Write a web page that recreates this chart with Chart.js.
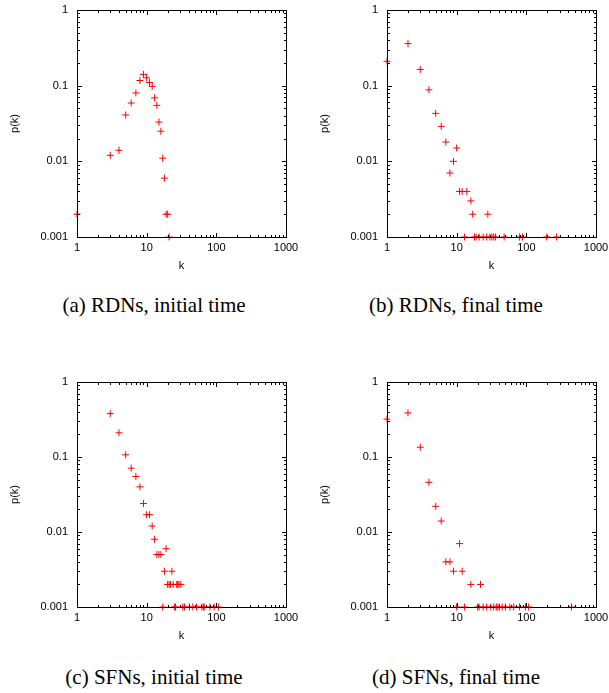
<!DOCTYPE html>
<html>
<head>
<meta charset="utf-8">
<script src="https://cdn.jsdelivr.net/npm/chart.js@4"></script>
<style>
  body { margin: 0; background: #fff; width: 609px; height: 693px; position: relative; overflow: hidden; }
  canvas { position: absolute; }
  .cap { position: absolute; width: 300px; text-align: center; font-family: "Liberation Serif", "Times New Roman", serif; font-size: 21px; line-height: 22px; color: #000; }
  .box { position: absolute; box-sizing: border-box; border: 1px solid #000; pointer-events: none; }
  .tk { position: absolute; background: #000; pointer-events: none; }
</style>
</head>
<body>
<canvas id="cA" width="300" height="275" style="left:0;top:0"></canvas>
<canvas id="cB" width="299" height="275" style="left:310px;top:0"></canvas>
<canvas id="cC" width="300" height="273" style="left:0;top:372px"></canvas>
<canvas id="cD" width="299" height="273" style="left:310px;top:372px"></canvas>
<div class="cap" style="left:4px;top:294px">(a) RDNs, initial time</div>
<div class="cap" style="left:306px;top:294px">(b) RDNs, final time</div>
<div class="cap" style="left:4px;top:666px">(c) SFNs, initial time</div>
<div class="cap" style="left:306px;top:666px">(d) SFNs, final time</div>
<script>
// degree distributions
const kA = [1, 3, 4, 5, 6, 7, 8, 9, 10, 11, 12, 13, 14, 15, 16, 17, 18, 19, 20, 21];
const pA = [0.002, 0.012, 0.014, 0.041, 0.059, 0.08, 0.117, 0.141, 0.127, 0.11, 0.098, 0.069, 0.055, 0.033, 0.025, 0.011, 0.006, 0.002, 0.002, 0.001];

const kB = [1, 2, 3, 4, 5, 6, 7, 8, 9, 10, 11, 12, 14, 16, 17, 28,
            13, 18, 19, 21, 24, 27, 30, 32, 34, 36, 48, 80, 88, 196, 272];
const pB = [0.21, 0.36, 0.164, 0.088, 0.043, 0.029, 0.018, 0.007, 0.01, 0.015, 0.004, 0.004, 0.004, 0.003, 0.002, 0.002,
            0.001, 0.001, 0.001, 0.001, 0.001, 0.001, 0.001, 0.001, 0.001, 0.001, 0.001, 0.001, 0.001, 0.001, 0.001];

const kC = [3, 4, 5, 6, 7, 8, 9, 10, 11, 12, 13, 14, 15, 16, 19, 18, 23,
            20, 21, 22, 24, 27, 28, 29, 31,
            17, 25, 26, 33, 35, 41, 46, 52, 62, 65, 67, 81, 93, 107];
const pC = [0.38, 0.21, 0.107, 0.071, 0.055, 0.04, 0.024, 0.017, 0.017, 0.012, 0.008, 0.005, 0.005, 0.005, 0.006, 0.003, 0.003,
            0.002, 0.002, 0.002, 0.002, 0.002, 0.002, 0.002, 0.002,
            0.001, 0.001, 0.001, 0.001, 0.001, 0.001, 0.001, 0.001, 0.001, 0.001, 0.001, 0.001, 0.001, 0.001];

const kD = [1, 2, 3, 4, 5, 6, 7, 8, 9, 11, 12, 16, 22,
            10, 13, 20, 21, 24, 27, 31, 34, 37, 39, 41, 45, 50, 58, 66, 80, 97, 108, 445];
const pD = [0.32, 0.387, 0.135, 0.046, 0.022, 0.014, 0.004, 0.004, 0.003, 0.007, 0.003, 0.002, 0.002,
            0.001, 0.001, 0.001, 0.001, 0.001, 0.001, 0.001, 0.001, 0.001, 0.001, 0.001, 0.001, 0.001, 0.001, 0.001, 0.001, 0.001, 0.001, 0.001];

// axis ticks
const xTicks = [1, 10, 100, 1000];
const yTicks = [0.001, 0.01, 0.1, 1];
const xMinor = [2, 3, 4, 5, 6, 7, 8, 9, 20, 30, 40, 50, 60, 70, 80, 90, 200, 300, 400, 500, 600, 700, 800, 900];
const yMinor = [0.002, 0.003, 0.004, 0.005, 0.006, 0.007, 0.008, 0.009,
                0.02, 0.03, 0.04, 0.05, 0.06, 0.07, 0.08, 0.09,
                0.2, 0.3, 0.4, 0.5, 0.6, 0.7, 0.8, 0.9];

const tickFont = { family: '"Liberation Sans", Arial, sans-serif', size: 11 };

function addDiv(cls, l, t, w, h) {
  const d = document.createElement('div');
  d.className = cls;
  d.style.left = l + 'px'; d.style.top = t + 'px';
  d.style.width = w + 'px'; d.style.height = h + 'px';
  document.body.appendChild(d);
}

// plot frame and gnuplot style inward ticks, placed from the chart's own scales
function addFrame(chart) {
  const cv = chart.canvas, a = chart.chartArea;
  const ox = cv.offsetLeft, oy = cv.offsetTop;
  const xs = chart.scales.x, ys = chart.scales.y;
  const L = Math.round(a.left), R = Math.round(a.right), T = Math.round(a.top), B = Math.round(a.bottom);
  addDiv('box', ox + L, oy + T, R - L + 1, B - T + 1);
  const xt = (v, len) => {
    const c = Math.round(xs.getPixelForValue(v));
    addDiv('tk', ox + c, oy + T, 1, len + 1);
    addDiv('tk', ox + c, oy + B - len, 1, len + 1);
  };
  const yt = (v, len) => {
    const r = Math.round(ys.getPixelForValue(v));
    addDiv('tk', ox + L, oy + r, len + 1, 1);
    addDiv('tk', ox + R - len, oy + r, len + 1, 1);
  };
  xTicks.forEach(v => xt(v, 4));
  xMinor.forEach(v => xt(v, 2));
  yTicks.forEach(v => yt(v, 4));
  yMinor.forEach(v => yt(v, 2));
}

function makePanel(id, ks, ps, padRight) {
  const pts = ks.map((k, i) => ({ x: k, y: ps[i] }));
  return new Chart(document.getElementById(id), {
    type: 'scatter',
    data: {
      datasets: [{
        data: pts,
        pointStyle: 'cross',
        pointRadius: 3.5,
        pointBorderWidth: 1,
        borderColor: 'rgb(255,0,0)',
        backgroundColor: 'rgb(255,0,0)',
        clip: false
      }]
    },
    options: {
      responsive: false,
      animation: false,
      events: [],
      devicePixelRatio: 1,
      layout: { padding: { left: 0, top: 10, right: padRight, bottom: 0 } },
      plugins: { legend: { display: false }, tooltip: { enabled: false } },
      scales: {
        x: {
          type: 'logarithmic', min: 1, max: 1000,
          grid: { display: false, drawTicks: false },
          border: { display: false },
          afterBuildTicks: s => { s.ticks = xTicks.map(v => ({ value: v })); },
          afterFit: s => { s.height = 38; s.paddingLeft = 0; s.paddingRight = 0; },
          ticks: { font: tickFont, color: '#000', padding: 4, maxRotation: 0, callback: v => String(v) },
          title: { display: true, text: 'k', font: tickFont, color: '#000', padding: { top: 0, bottom: 2 } }
        },
        y: {
          type: 'logarithmic', min: 0.001, max: 1,
          grid: { display: false, drawTicks: false },
          border: { display: false },
          afterBuildTicks: s => { s.ticks = yTicks.map(v => ({ value: v })); },
          afterFit: s => { s.width = 77; s.paddingTop = 0; s.paddingBottom = 0; },
          ticks: { font: tickFont, color: '#000', padding: 9, callback: v => String(v) },
          title: { display: true, text: 'p(k)', font: tickFont, color: '#000', padding: { top: 8, bottom: 0 } }
        }
      }
    }
  });
}

[makePanel('cA', kA, pA, 14),
 makePanel('cB', kB, pB, 13),
 makePanel('cC', kC, pC, 14),
 makePanel('cD', kD, pD, 13)].forEach(addFrame);
</script>
</body>
</html>
